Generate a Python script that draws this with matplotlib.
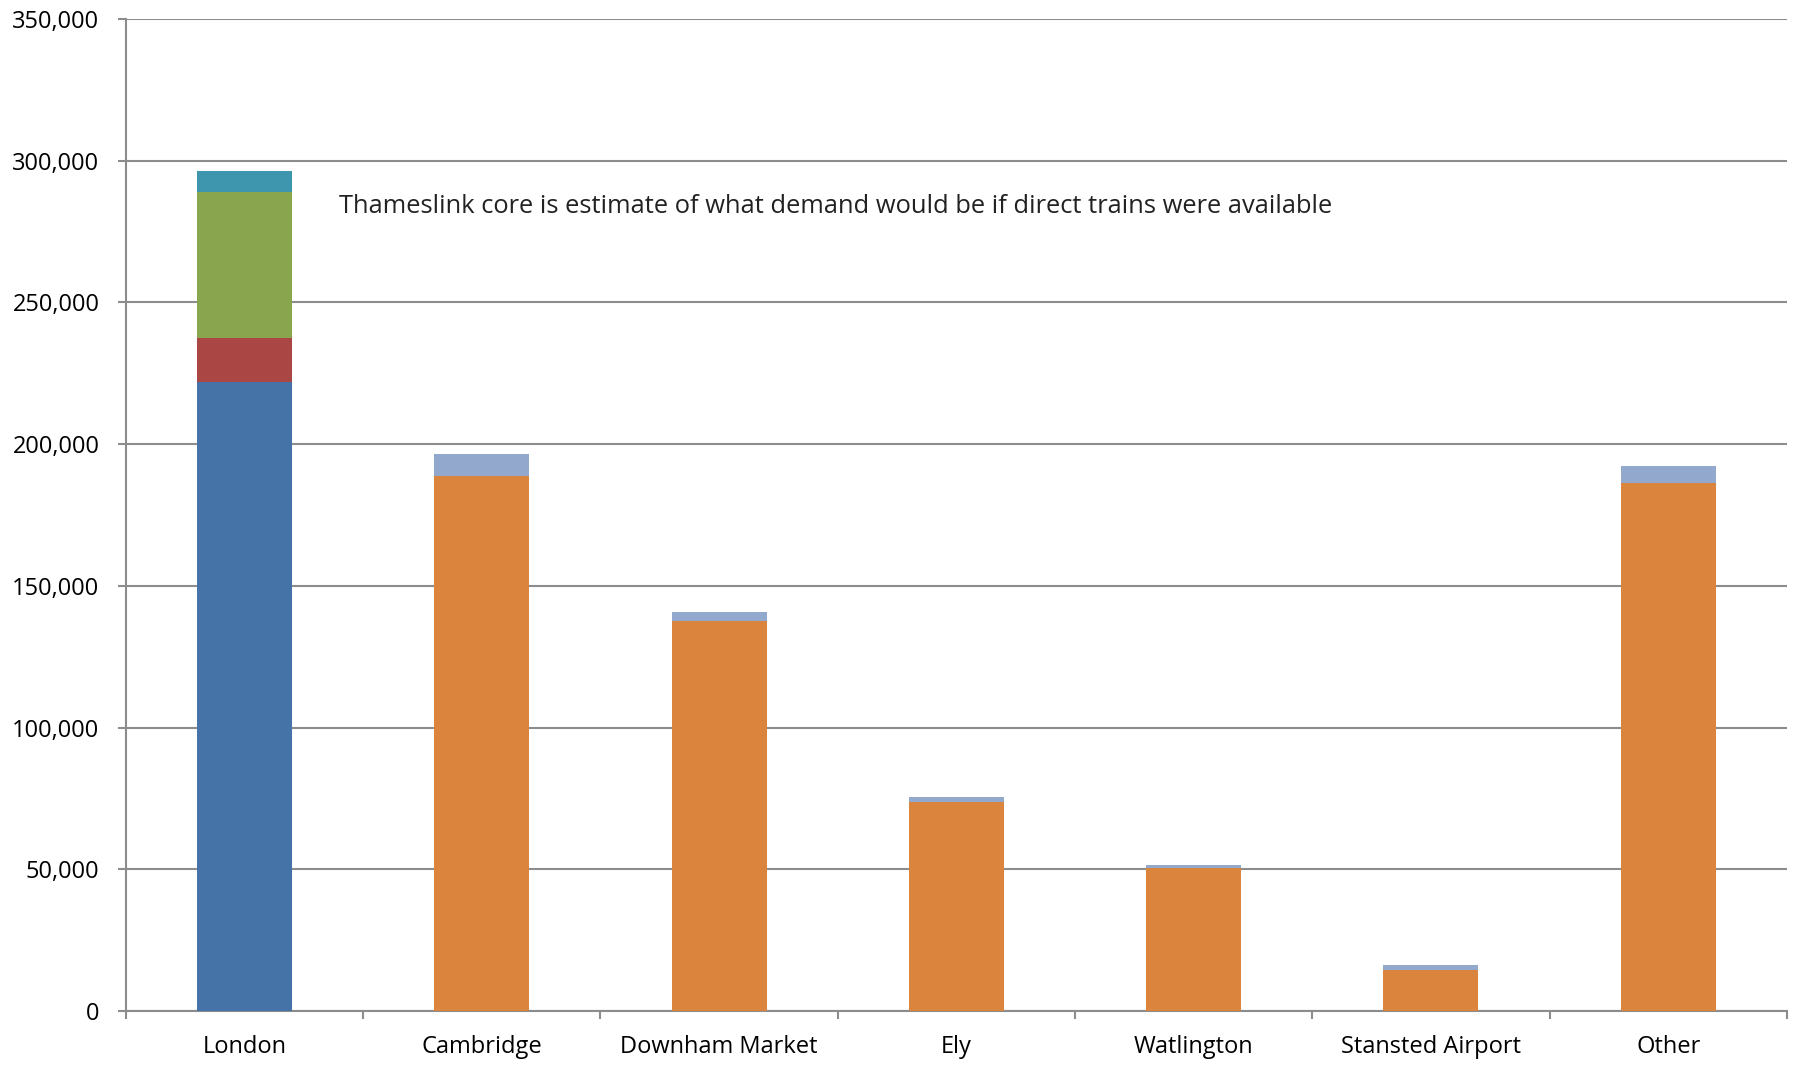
import matplotlib
matplotlib.use("Agg")
import matplotlib.pyplot as plt
import numpy as np

# ---- data ----
categories = ["London", "Cambridge", "Downham Market", "Ely",
              "Watlington", "Stansted Airport", "Other"]
london_direct = [222000, 0, 0, 0, 0, 0, 0]
london_other = [15500, 0, 0, 0, 0, 0, 0]
london_core = [51500, 0, 0, 0, 0, 0, 0]
london_extra = [7300, 0, 0, 0, 0, 0, 0]
dest_main = [0, 188700, 137500, 73700, 50300, 14400, 186200]
dest_extra = [0, 8000, 3200, 1700, 1200, 1800, 6100]
y_ticks = [0, 50000, 100000, 150000, 200000, 250000, 300000, 350000]
note = "Thameslink core is estimate of what demand would be if direct trains were available"

# ---- palette (Excel 2007 defaults) ----
BLUE = "#4572A7"
RED = "#AA4643"
GREEN = "#89A54E"
TEAL = "#3D96AE"
ORANGE = "#DB843D"
LIGHT = "#92A8CD"
GRID = "#8c8c8c"

plt.rcParams.update({
    "font.family": ["Open Sans", "DejaVu Sans"],
    "font.size": 17,
})

fig = plt.figure(figsize=(17.94, 10.76), dpi=100)
ax = fig.add_axes([0.0702, 0.0604, 0.9258, 0.9219])

x = np.arange(len(categories))
w = 0.4
series = [
    (london_direct, BLUE), (london_other, RED), (london_core, GREEN),
    (london_extra, TEAL), (dest_main, ORANGE), (dest_extra, LIGHT),
]
bottom = np.zeros(len(categories))
for vals, col in series:
    vals = np.array(vals, dtype=float)
    ax.bar(x, vals, w, bottom=bottom, color=col, linewidth=0, zorder=3)
    bottom += vals

ax.set_xlim(-0.5, len(categories) - 0.5)
ax.set_ylim(0, 350000)
ax.set_yticks(y_ticks)
ax.set_yticklabels([f"{v:,}" for v in y_ticks])
ax.set_xticks(np.arange(len(categories) + 1) - 0.5)
ax.set_xticklabels([])
ax.set_xticks(x, minor=True)
ax.set_xticklabels(categories, minor=True)
ax.tick_params(axis="x", which="minor", length=0, pad=17)
ax.tick_params(axis="x", which="major", length=6, width=1.5, color=GRID, direction="out")
ax.tick_params(axis="y", length=6, width=1.5, color=GRID, direction="out", pad=13)

ax.grid(axis="y", color=GRID, linewidth=1.5, zorder=0)
for s in ("top", "right"):
    ax.spines[s].set_visible(False)
for s in ("left", "bottom"):
    ax.spines[s].set_color(GRID)
    ax.spines[s].set_linewidth(1.5)

ax.text(0.40, 283800, note, ha="left", va="center", fontsize=18.4, color="#222222")

fig.savefig("out.png", dpi=100, facecolor="white")
